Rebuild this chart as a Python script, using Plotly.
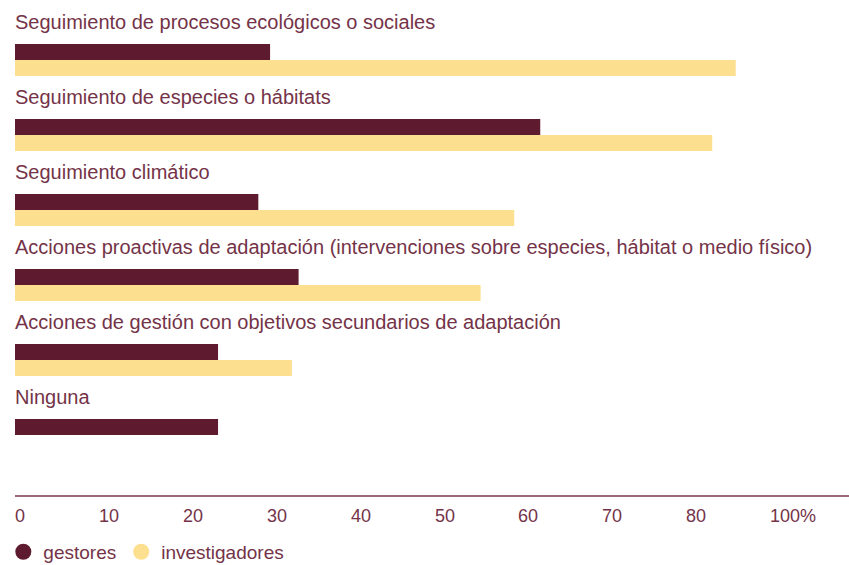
import plotly.graph_objects as go

categories = [
    "Seguimiento de procesos ecológicos o sociales",
    "Seguimiento de especies o hábitats",
    "Seguimiento climático",
    "Acciones proactivas de adaptación (intervenciones sobre especies, hábitat o medio físico)",
    "Acciones de gestión con objetivos secundarios de adaptación",
    "Ninguna",
]
gestores = [30.4, 62.6, 29.0, 33.8, 24.2, 24.2]
investigadores = [85.9, 83.1, 59.5, 55.5, 33.0, None]
tick_vals = [0, 10, 20, 30, 40, 50, 60, 70, 80, 90]
tick_text = ["0", "10", "20", "30", "40", "50", "60", "70", "80", "100%"]

DARK = "#5e1a2e"
YELLOW = "#fde08f"
TEXT = "#743348"
FONT = "Liberation Sans, Arial, sans-serif"

pos = list(range(len(categories)))
bw = 16 / 75

fig = go.Figure()
fig.add_trace(go.Bar(y=pos, x=gestores, orientation="h", width=bw, offset=-bw,
                     marker=dict(color=DARK, line=dict(width=0)), showlegend=False, name="gestores"))
fig.add_trace(go.Bar(y=pos, x=investigadores, orientation="h", width=bw, offset=0,
                     marker=dict(color=YELLOW, line=dict(width=0)), showlegend=False, name="investigadores"))
# legend entries with circle markers
fig.add_trace(go.Scatter(x=[None], y=[None], mode="markers", name="gestores",
                         marker=dict(color=DARK, size=16, symbol="circle")))
fig.add_trace(go.Scatter(x=[None], y=[None], mode="markers", name="investigadores",
                         marker=dict(color=YELLOW, size=16, symbol="circle")))

annotations = []
for i, c in enumerate(categories):
    annotations.append(dict(x=0, xref="paper", y=i, yref="y", text=c, showarrow=False,
                            xanchor="left", yanchor="middle", yshift=38, xshift=-2,
                            font=dict(family=FONT, size=20, color=TEXT)))
for v, t in zip(tick_vals, tick_text):
    annotations.append(dict(x=v, xref="x", y=0, yref="paper", text=t, showarrow=False,
                            xanchor="left", yanchor="middle", yshift=-21, xshift=-2,
                            font=dict(family=FONT, size=18, color=TEXT)))

fig.update_layout(
    width=849, height=565,
    margin=dict(l=15, r=0, t=0, b=70, autoexpand=False),
    paper_bgcolor="white", plot_bgcolor="white",
    font=dict(family=FONT, color=TEXT),
    xaxis=dict(range=[0, 99.4], showgrid=False, zeroline=False, showticklabels=False,
               showline=True, linecolor="#9a6a78", linewidth=1.5, ticks=""),
    yaxis=dict(range=[5.8, -0.8], showgrid=False, zeroline=False, showticklabels=False,
               showline=False, ticks=""),
    showlegend=True,
    legend=dict(orientation="h", x=-0.014, xanchor="left", y=-0.115, yanchor="middle",
                font=dict(family=FONT, size=19, color=TEXT), itemwidth=30,
                bgcolor="rgba(0,0,0,0)", tracegroupgap=0),
    annotations=annotations,
)

fig.write_html("out.html", config={"displayModeBar": False},
               post_script="document.body.style.margin='0';document.body.style.padding='0';document.body.style.overflow='hidden';")
